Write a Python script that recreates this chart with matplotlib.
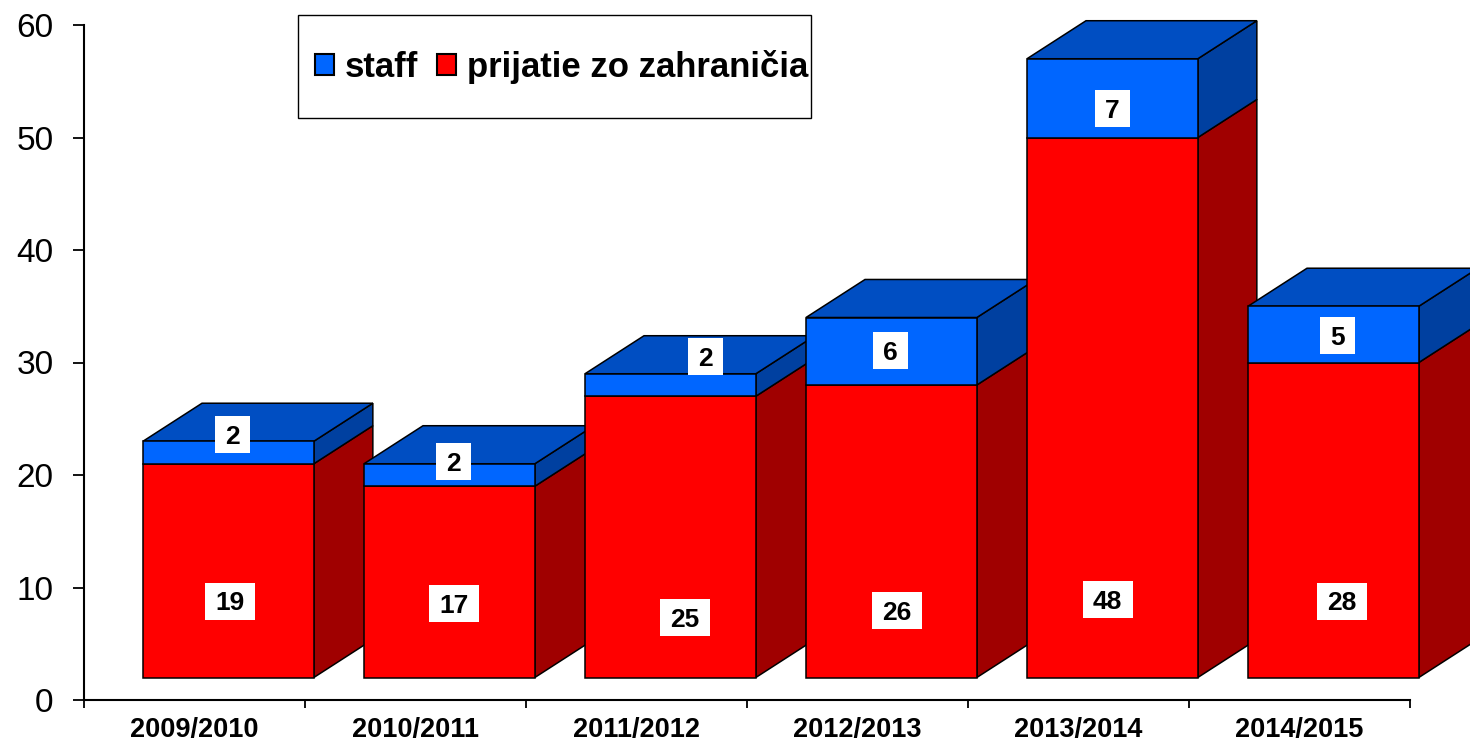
import matplotlib
matplotlib.use('Agg')
import matplotlib.pyplot as plt
from matplotlib.patches import Polygon, Rectangle, Patch

plt.rcParams['font.family'] = ['Liberation Sans', 'DejaVu Sans']

# data
years = ['2009/2010', '2010/2011', '2011/2012', '2012/2013', '2013/2014', '2014/2015']
prijatie = [19, 17, 25, 26, 48, 28]   # red, lower segment
staff = [2, 2, 2, 6, 7, 5]            # blue, upper segment
base = 2                              # bars stand on the 3D floor

# where the white value boxes sit
red_lab_x = [0.660, 0.676, 0.720, 0.678, 0.632, 0.693]
red_lab_y = [8.8, 8.6, 7.3, 8.0, 8.9, 8.8]
blue_lab_x = [0.673, 0.672, 0.811, 0.651, 0.654, 0.671]
blue_lab_y = [23.6, 21.2, 30.5, 31.1, 52.6, 32.4]

c_red, c_red_side = '#FF0000', '#A00000'
c_blue, c_blue_top, c_blue_side = '#0066FF', '#004EC2', '#0040A0'

W, H = 1470, 740
fig = plt.figure(figsize=(W / 100, H / 100), dpi=100)
ax = fig.add_axes([84 / W, 40 / H, (1410 - 84) / W, 675 / H])
ax.set_xlim(0, len(years))
ax.set_ylim(0, 60)

off, bw = 0.267, 0.773      # front face start / width (category units)
dx, dy = 0.267, 3.38        # depth of the 3D box
lw = 1.1

for i in range(len(years)):
    xl = i + off
    xr = xl + bw
    r = base + prijatie[i]
    t = r + staff[i]
    z = 2 + i * 3
    kw = dict(edgecolor='black', linewidth=lw, clip_on=False, joinstyle='miter')
    # side faces
    ax.add_patch(Polygon([(xr, base), (xr + dx, base + dy), (xr + dx, r + dy), (xr, r)],
                         facecolor=c_red_side, zorder=z, **kw))
    ax.add_patch(Polygon([(xr, r), (xr + dx, r + dy), (xr + dx, t + dy), (xr, t)],
                         facecolor=c_blue_side, zorder=z, **kw))
    # top
    ax.add_patch(Polygon([(xl, t), (xl + dx, t + dy), (xr + dx, t + dy), (xr, t)],
                         facecolor=c_blue_top, zorder=z + 1, **kw))
    # front
    ax.add_patch(Rectangle((xl, base), bw, prijatie[i], facecolor=c_red, zorder=z + 2, **kw))
    ax.add_patch(Rectangle((xl, r), bw, staff[i], facecolor=c_blue, zorder=z + 2, **kw))

# white value boxes: about 35 px wide for one digit, 50 px for two, 37 px tall
px_x = 1 / 221.3
px_y = 1 / 11.25


def value_box(x, y, val):
    s = str(val)
    w = (20 + 15 * len(s)) * px_x
    h = 37 * px_y
    ax.add_patch(Rectangle((x - w / 2, y - h / 2), w, h, facecolor='white',
                           edgecolor='none', zorder=49, clip_on=False))
    ax.text(x, y, s, ha='center', va='center_baseline', fontsize=19,
            fontweight='bold', zorder=50)


for i in range(len(years)):
    value_box(i + red_lab_x[i], red_lab_y[i], prijatie[i])
    value_box(i + blue_lab_x[i], blue_lab_y[i], staff[i])

# axes styling
for s in ['top', 'right']:
    ax.spines[s].set_visible(False)
for s in ['left', 'bottom']:
    ax.spines[s].set_linewidth(1.5)
    ax.spines[s].set_zorder(1)
ax.set_yticks(range(0, 61, 10))
ax.tick_params(axis='y', length=8, width=1.3, pad=14, labelsize=24)
ax.set_xticks(range(len(years) + 1))
ax.set_xticklabels([])
ax.tick_params(axis='x', which='major', length=6, width=1.3)
ax.set_xticks([i + 0.5 for i in range(len(years))], minor=True)
ax.set_xticklabels(years, minor=True, fontsize=19.5, fontweight='bold')
ax.tick_params(axis='x', which='minor', length=0, pad=12)

# legend
handles = [Patch(facecolor=c_blue, edgecolor='black', linewidth=1.5, label='staff'),
           Patch(facecolor=c_red, edgecolor='black', linewidth=1.5, label='prijatie zo zahraničia')]
leg = fig.legend(handles=handles, loc='center left', bbox_to_anchor=(315 / W, 1 - 67 / H),
                 bbox_transform=fig.transFigure, ncol=2, frameon=False, borderpad=0,
                 borderaxespad=0, handlelength=0.55, handleheight=0.55, handletextpad=0.3,
                 columnspacing=0.55, prop={'size': 25, 'weight': 'bold'})
fig.add_artist(Rectangle((298 / W, 1 - 118 / H), 513 / W, 103 / H, transform=fig.transFigure,
                         fill=False, edgecolor='black', linewidth=1.0))

fig.savefig('out.png', dpi=100)
